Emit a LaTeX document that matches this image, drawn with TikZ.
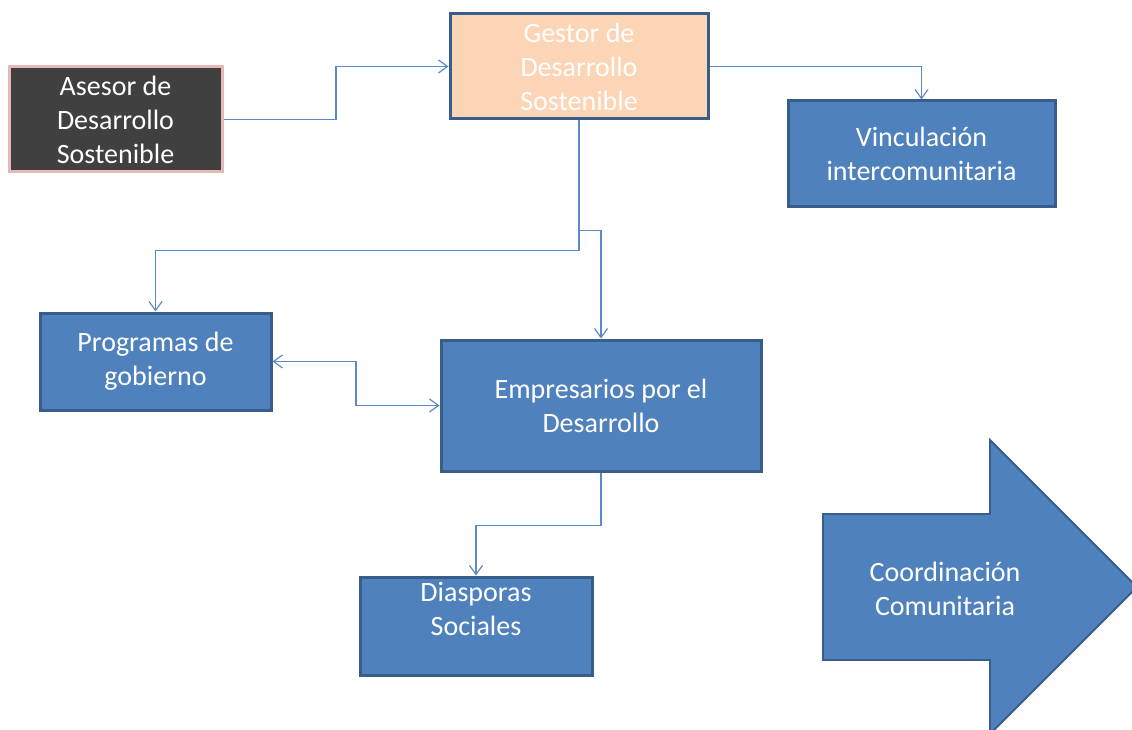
\documentclass[tikz,border=0pt]{standalone}
\usepackage{fontspec}
\setmainfont{Carlito}
\usetikzlibrary{arrows.meta,calc}
\definecolor{boxfill}{RGB}{79,129,189}
\definecolor{boxline}{RGB}{56,93,138}
\definecolor{conncol}{RGB}{90,138,200}
\definecolor{peach}{RGB}{251,213,181}
\definecolor{darkgray}{RGB}{64,64,64}
\definecolor{pinkline}{RGB}{230,185,184}
\tikzset{
  box/.style={draw=boxline, fill=boxfill, line width=3pt, inner sep=0pt, align=center,
    text=white, font=\fontsize{28}{34}\selectfont},
  conn/.style={draw=conncol, line width=1.2pt, -{Straight Barb[length=9pt,width=13pt,line width=1.2pt]}},
  conn2/.style={draw=conncol, line width=1.2pt, {Straight Barb[length=9pt,width=13pt,line width=1.2pt]}-{Straight Barb[length=9pt,width=13pt,line width=1.2pt]}},
  bigarrow/.style={fill=boxfill, draw=boxline, line width=1.8pt, line join=miter}
}
\begin{document}
\begin{tikzpicture}[x=1pt,y=-1pt]
\useasboundingbox (0,0) rectangle (1132,730);
\clip (0,0) rectangle (1132,730);
\node[box, draw=pinkline, fill=darkgray, minimum width=213, minimum height=105] (asesor) at (115.5,119.5) {Asesor de\\Desarrollo\\Sostenible};
\node[box, fill=peach, minimum width=258, minimum height=105] (gestor) at (579,66.5) {Gestor de\\Desarrollo\\Sostenible};
\node[box, minimum width=267, minimum height=106] (vinc) at (921.5,154) {Vinculación\\intercomunitaria};
\node[box, minimum width=231, minimum height=97] (prog) at (155.5,361.5) {Programas de\\gobierno};
\node[box, minimum width=320, minimum height=131] (emp) at (601,405.5) {Empresarios por el\\Desarrollo};
\node[box, minimum width=232, minimum height=98] (diasp) at (476,626) {Diasporas\\Sociales\\~};
% big arrow
\coordinate (a1) at (823,514);
\coordinate (a2) at (990,514);
\coordinate (a3) at (990,440);
\coordinate (a4) at (1137,587);
\coordinate (a5) at (990,734);
\coordinate (a6) at (990,660);
\coordinate (a7) at (823,660);
\path[bigarrow] (a1) -- (a2) -- (a3) -- (a4) -- (a5) -- (a6) -- (a7) -- cycle;
\node[align=center, text=white, font=\fontsize{28}{34}\selectfont] (coord) at (945,589) {Coordinación\\Comunitaria};
% connectors
\draw[conn] (asesor.east) -| ($(asesor.east)!0.5!(gestor.west)$) |- (gestor.west);
\draw[conn] (gestor.east) -| (vinc.north);
\draw[conn] (gestor.south) -- ++(0,130) -| (prog.north);
\draw[conn] (gestor.south) -- ++(0,110) -| (emp.north);
\draw[conn2] (prog.east) -| ($(prog.east)!0.5!(emp.west)$) |- (emp.west);
\draw[conn] (emp.south) -- ++(0,53) -| (diasp.north);
\end{tikzpicture}
\end{document}
